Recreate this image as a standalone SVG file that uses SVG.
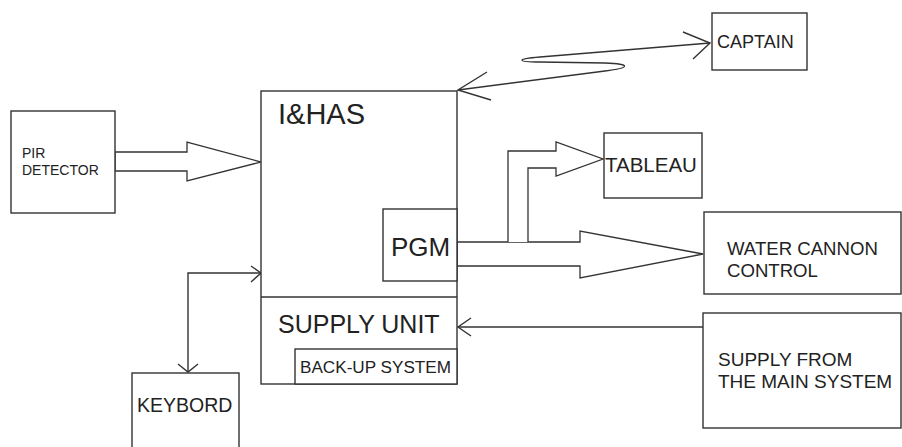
<svg xmlns="http://www.w3.org/2000/svg" width="902" height="447" viewBox="0 0 902 447">
<style>
.box{fill:#fff;stroke:#333;stroke-width:1.4}
.ln{fill:none;stroke:#333;stroke-width:1.4}
.fat{fill:#fff;stroke:#333;stroke-width:1.3;stroke-linejoin:miter}
text{font-family:"Liberation Sans",Arial,sans-serif;fill:#222}
</style>
<rect width="902" height="447" fill="#fff"/>
<g id="connectors">
  <!-- captain <-> I&HAS squiggle -->
  <path class="ln" d="M710,43 L540,57 C516,59 516,62 540,62 L605,63 C632,64 630,68 605,71 L458,90"/>
  <path class="ln" d="M683,32 L710,43 L693,59"/>
  <path class="ln" d="M487,72 L458,90 L491,100"/>
  <!-- PIR fat arrow -->
  <polygon class="fat" points="115,152 187,152 187,142 261,162 187,181 187,171 115,171"/>
  <!-- Water cannon fat arrow -->
  <polygon class="fat" points="457,242 580,242 580,231 703,254 580,278 580,266 457,266"/>
  <!-- Tableau fat arrow -->
  <polyline class="fat" points="508,242 508,151 556,151 556,142 603,159 556,176 556,168 528,168 528,242"/>
  <!-- keyboard <-> I&HAS -->
  <path class="ln" d="M188,372 L188,273 L261,273"/>
  <path class="ln" d="M251,266 L261,273 L251,282"/>
  <path class="ln" d="M178,364 L188,372 L198,364"/>
  <!-- supply from main -->
  <path class="ln" d="M703,327 L458,327"/>
  <path class="ln" d="M471,318 L458,327 L471,336"/>
</g>
<g id="ihas">
  <rect class="box" x="261" y="91" width="196" height="293"/>
  <text x="278" y="124" font-size="29">I&amp;HAS</text>
</g>
<g id="pgm">
  <rect class="box" x="383" y="209" width="74" height="72"/>
  <text x="391" y="256" font-size="26">PGM</text>
</g>
<g id="supply-unit">
  <line class="ln" x1="261" y1="297" x2="457" y2="297"/>
  <text x="278" y="333" font-size="25">SUPPLY UNIT</text>
</g>
<g id="backup">
  <rect class="box" x="295" y="349" width="162" height="35"/>
  <text x="300" y="373" font-size="16" textLength="151" lengthAdjust="spacingAndGlyphs">BACK-UP SYSTEM</text>
</g>
<g id="pir">
  <rect class="box" x="11" y="111" width="104" height="102"/>
  <text x="22" y="158" font-size="14">PIR</text>
  <text x="22" y="175" font-size="14">DETECTOR</text>
</g>
<g id="captain">
  <rect class="box" x="712" y="13" width="95" height="57"/>
  <text x="717" y="48" font-size="18">CAPTAIN</text>
</g>
<g id="tableau">
  <rect class="box" x="604" y="133" width="98" height="65"/>
  <text x="605" y="172" font-size="20.5">TABLEAU</text>
</g>
<g id="water-cannon">
  <rect class="box" x="704" y="212" width="197" height="82"/>
  <text x="727" y="255" font-size="18.6">WATER CANNON</text>
  <text x="727" y="277" font-size="18.6">CONTROL</text>
</g>
<g id="supply-main">
  <rect class="box" x="703" y="313" width="198" height="115"/>
  <text x="718" y="366" font-size="19">SUPPLY FROM</text>
  <text x="718" y="388" font-size="19">THE MAIN SYSTEM</text>
</g>
<g id="keybord">
  <rect class="box" x="132" y="373" width="107" height="90"/>
  <text x="137" y="412" font-size="19.5">KEYBORD</text>
</g>
</svg>
